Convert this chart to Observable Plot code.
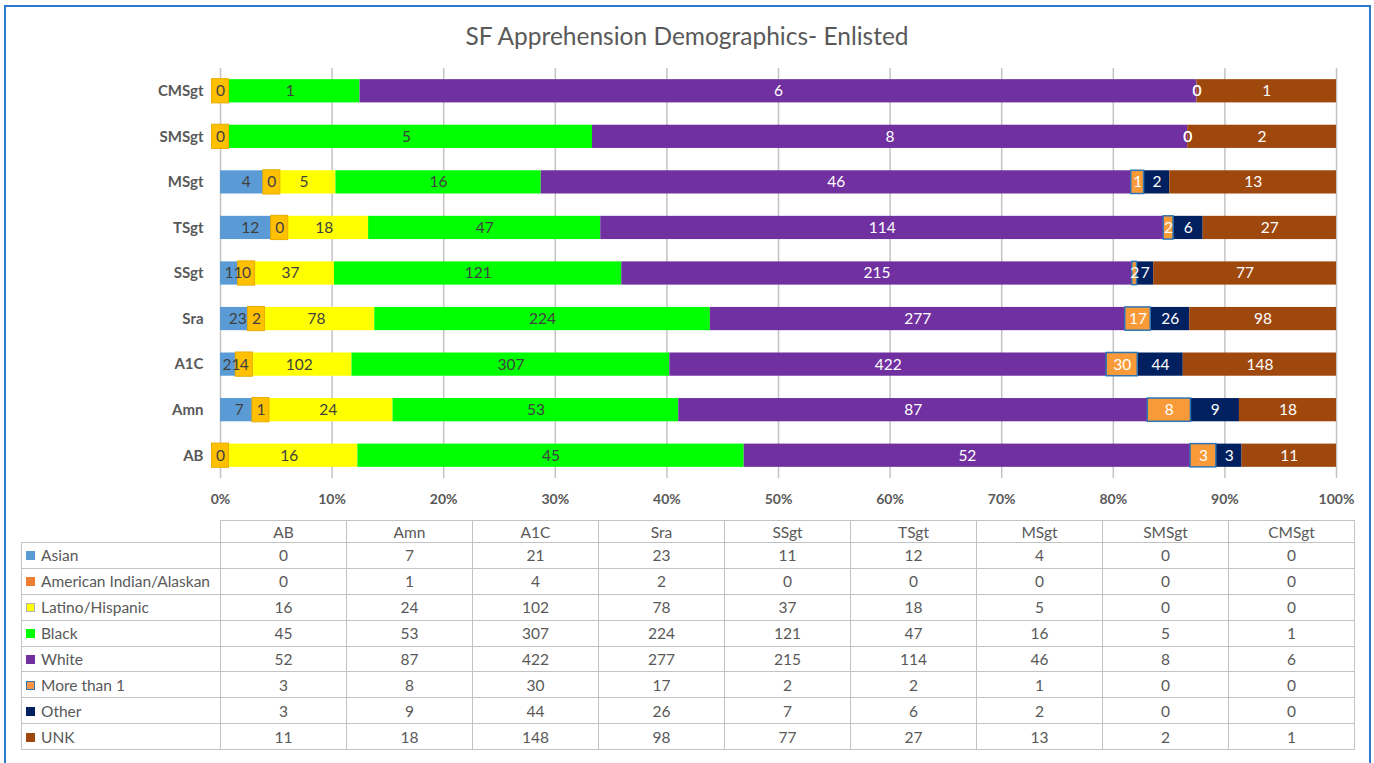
<!DOCTYPE html>
<html>
<head>
<meta charset="utf-8">
<script src="https://cdn.jsdelivr.net/npm/d3@7"></script>
<script src="https://cdn.jsdelivr.net/npm/@observablehq/plot@0.6"></script>
<style>
  html, body { margin:0; padding:0; overflow:hidden; background:#fff; }
  #frame { position:absolute; left:4px; top:5px; width:1367px; height:775px; border:2px solid #2b7bd0; box-sizing:border-box; }
  #title { position:absolute; left:0; top:21px; width:1374px; text-align:center; font-family:Lato, sans-serif; font-size:24.5px; color:#595959; }
  #chart { position:absolute; left:0; top:0; }
  #tbl { position:absolute; left:21px; top:520px; border-collapse:collapse; table-layout:fixed; font-family:Lato, sans-serif; font-size:15.5px; color:#595959; }
  #tbl td, #tbl th { border:1.5px solid #c3c3c3; padding:0; text-align:center; font-weight:normal; height:24.9px; white-space:nowrap; overflow:hidden; }
  #tbl th { height:21px; }
  #tbl th.blank { border-style:none; }
  #tbl td.name { text-align:left; padding-left:4px; }
  .sw { display:inline-block; width:9px; height:9px; margin-right:6px; vertical-align:1px; box-sizing:border-box; }
</style>
</head>
<body>
<div id="frame"></div>
<div id="title">SF Apprehension Demographics- Enlisted</div>
<div id="chart"></div>
<table id="tbl"></table>
<script>
const ranks = ["AB", "Amn", "A1C", "Sra", "SSgt", "TSgt", "MSgt", "SMSgt", "CMSgt"];
const races = ["Asian", "American Indian/Alaskan", "Latino/Hispanic", "Black", "White", "More than 1", "Other", "UNK"];
const asian     = [0, 7, 21, 23, 11, 12, 4, 0, 0];
const amIndian  = [0, 1, 4, 2, 0, 0, 0, 0, 0];
const latino    = [16, 24, 102, 78, 37, 18, 5, 0, 0];
const black     = [45, 53, 307, 224, 121, 47, 16, 5, 1];
const white     = [52, 87, 422, 277, 215, 114, 46, 8, 6];
const moreThan1 = [3, 8, 30, 17, 2, 2, 1, 0, 0];
const other     = [3, 9, 44, 26, 7, 6, 2, 0, 0];
const unk       = [11, 18, 148, 98, 77, 27, 13, 2, 1];
const xTicks = [0, 0.1, 0.2, 0.3, 0.4, 0.5, 0.6, 0.7, 0.8, 0.9, 1];

const series = [asian, amIndian, latino, black, white, moreThan1, other, unk];
const barColors = ["#5b9bd5", "#ffc000", "#ffff00", "#00ff00", "#7030a0", "#f99a38", "#002060", "#9e480e"];
const legendColors = ["#5b9bd5", "#ed7d31", "#ffff00", "#00ff00", "#7030a0", "#f79646", "#002060", "#9e480e"];
const darkRaces = new Set(["White", "More than 1", "Other", "UNK"]);

// stacked, normalized table built from the arrays
const rows = [];
ranks.forEach((rank, i) => {
  const total = d3.sum(series, s => s[i]);
  let cum = 0;
  races.forEach((race, j) => {
    const v = series[j][i];
    rows.push({rank, race, value: v, x1: cum / total, x2: (cum + v) / total, mid: (cum + v / 2) / total});
    cum += v;
  });
});

const labelled = rows.filter(d => d.value > 0 || d.race === "American Indian/Alaskan" || d.race === "More than 1" || d.race === "Other");

const chart = Plot.plot({
  width: 1374,
  height: 515,
  marginTop: 68,
  marginBottom: 37,
  marginLeft: 220,
  marginRight: 38,
  style: {fontFamily: "Lato, sans-serif", background: "transparent", overflow: "visible"},
  x: {domain: [0, 1], axis: null},
  y: {domain: ranks.slice().reverse(), paddingInner: 0.49, paddingOuter: 0.245, round: false, axis: null},
  color: {domain: races, range: barColors},
  marks: [
    Plot.gridX(xTicks, {stroke: "#c3c3c3", strokeOpacity: 1, strokeWidth: 1.5}),
    Plot.axisX(xTicks, {tickSize: 0, tickPadding: 16, tickFormat: d3.format(".0%"), fontWeight: "bold", fontSize: 14, fill: "#595959", label: null}),
    Plot.axisY({tickSize: 0, tickPadding: 17, fontWeight: "bold", fontSize: 15, fill: "#595959", label: null}),
    Plot.barX(rows, {x1: "x1", x2: "x2", y: "rank", fill: "race"}),
    Plot.barX(rows.filter(d => d.race === "American Indian/Alaskan"), {
      x1: "mid", x2: "mid", y: "rank", fill: "#ffc000", stroke: "#e8ad00", strokeWidth: 1,
      insetLeft: -8.5, insetRight: -8.5, insetTop: -0.5, insetBottom: -0.5
    }),
    Plot.barX(rows.filter(d => d.race === "More than 1" && d.value > 0), {
      x1: "x1", x2: "x2", y: "rank", fill: "#f99a38", stroke: "#2e75b6", strokeWidth: 1.5
    }),
    Plot.text(labelled.filter(d => !darkRaces.has(d.race)), {x: "mid", y: "rank", text: "value", fill: "#404040", fontSize: 15.5}),
    Plot.text(labelled.filter(d => darkRaces.has(d.race)), {x: "mid", y: "rank", text: "value", fill: "#ffffff", fontSize: 15.5})
  ]
});
document.getElementById("chart").appendChild(chart);

// data table
const tbl = d3.select("#tbl");
const cg = tbl.append("colgroup");
cg.append("col").style("width", "199px");
ranks.forEach(() => cg.append("col").style("width", "126px"));
const hr = tbl.append("tr");
hr.append("th").attr("class", "blank");
ranks.forEach(r => hr.append("th").text(r));
races.forEach((race, j) => {
  const tr = tbl.append("tr");
  const td = tr.append("td").attr("class", "name");
  const sw = td.append("span").attr("class", "sw").style("background", legendColors[j]);
  if (race === "More than 1") sw.style("border", "1.5px solid #2e75b6");
  if (race === "Latino/Hispanic") sw.style("border", "1px solid #b0b0b0");
  td.append("span").text(race);
  ranks.forEach((r, i) => tr.append("td").text(series[j][i]));
});
</script>
</body>
</html>
